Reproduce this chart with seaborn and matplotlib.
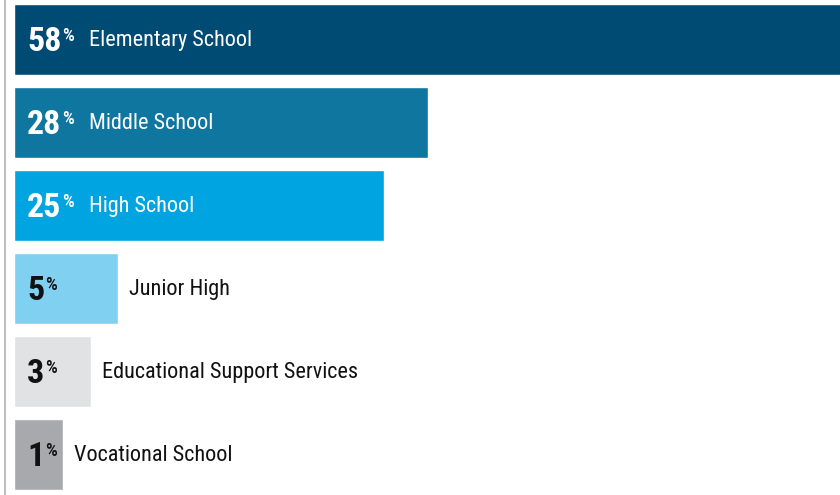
import matplotlib
matplotlib.use('Agg')
import matplotlib.pyplot as plt
import seaborn as sns
import pandas as pd

# ===== DATA =====
categories = ['Elementary School', 'Middle School', 'High School',
              'Junior High', 'Educational Support Services', 'Vocational School']
percentages = [58, 28, 25, 5, 3, 1]
# drawn bar lengths (short bars are padded for the number)
bar_lengths = [58, 28, 25, 7, 5.2, 3.3]
bar_colors = ['#004b73', '#0f76a0', '#00a4e1', '#80d1f1', '#e1e2e4', '#a8a9ac']
text_colors = ['white', 'white', 'white', '#111111', '#111111', '#111111']
# ================

sns.set_style('white')
plt.rcParams['font.family'] = ['Roboto Condensed', 'Liberation Sans Narrow', 'Roboto']

df = pd.DataFrame({'Category': categories, 'Pct': percentages, 'Length': bar_lengths})

fig = plt.figure(figsize=(8.4, 4.95), dpi=100)
ax = fig.add_axes([4.5 / 840, 0, 1 - 4.5 / 840, 1])

sns.barplot(data=df, x='Length', y='Category', hue='Category', palette=bar_colors,
            saturation=1, width=0.855, legend=False, orient='h', ax=ax)

ax.set_xlim(-0.64, 55.8)
ax.set_ylim(5.488, -0.476)
ax.set_xlabel('')
ax.set_ylabel('')
ax.set_xticks([])
ax.set_yticks([])
for side in ['top', 'right', 'bottom']:
    ax.spines[side].set_visible(False)
ax.spines['left'].set_color('#bfbfbf')
ax.spines['left'].set_linewidth(1.5)

for i, (cat, pct, length, tc) in enumerate(zip(categories, percentages, bar_lengths, text_colors)):
    num = ax.text(0.9, i + 0.139, str(pct), color=tc, fontsize=24.5,
                  fontweight='bold', va='baseline', ha='left')
    ax.annotate('%', xy=(1, 1), xycoords=num, xytext=(0.5, -0.5),
                textcoords='offset points', fontsize=13.5, color=tc,
                fontweight='medium', va='top', ha='left')
    label_x = 5.1 if length > 10 else length + 0.75
    ax.text(label_x, i + 0.084, cat, color=tc, fontsize=16, va='baseline', ha='left')

fig.savefig('out.png', dpi=100)
plt.close()
